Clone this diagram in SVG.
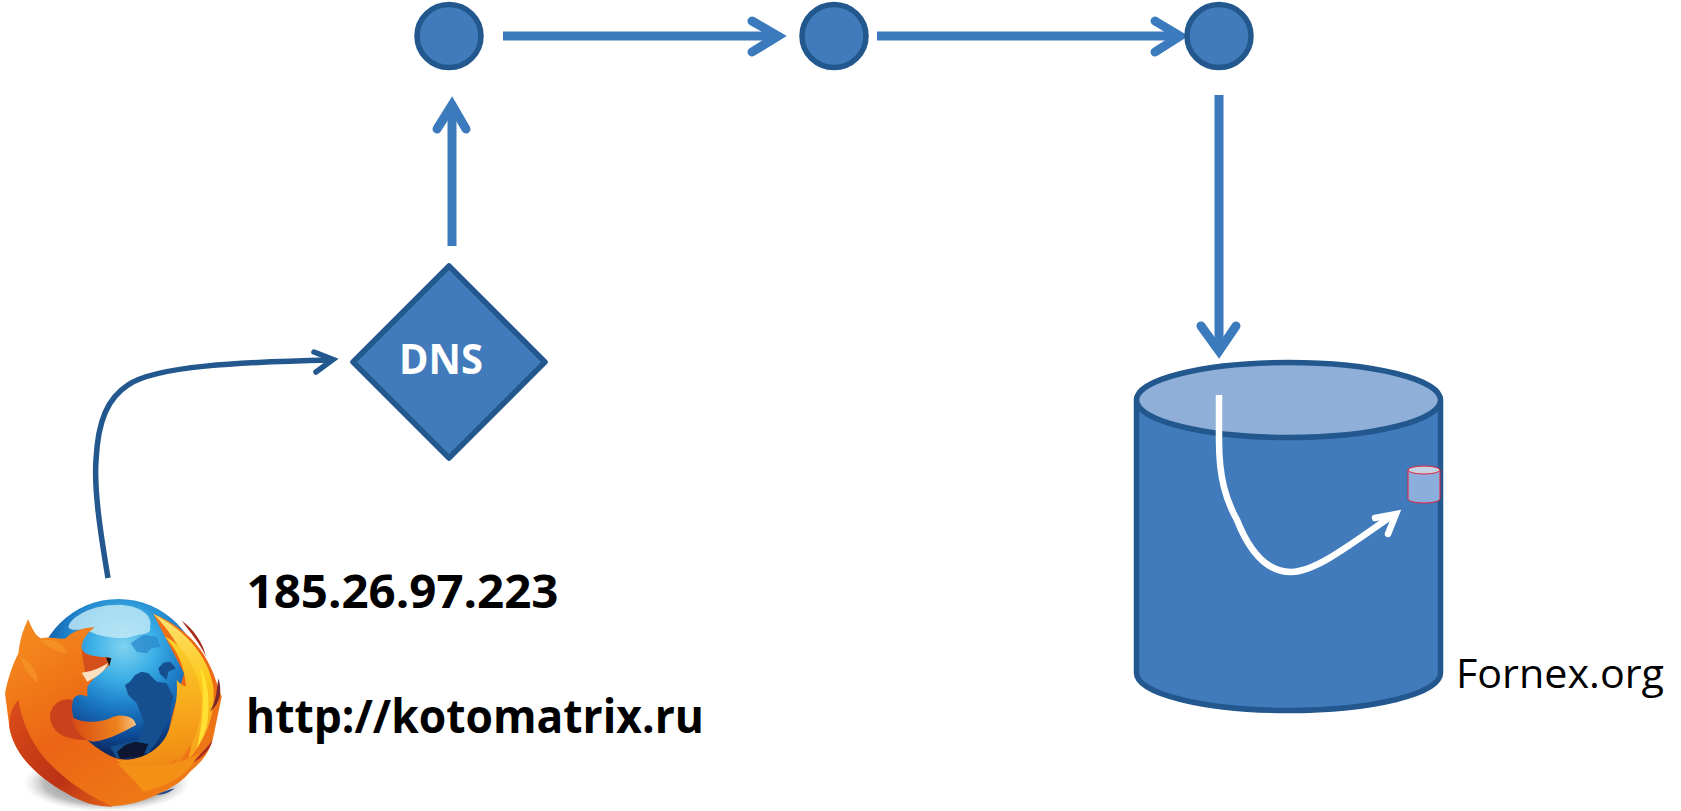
<svg xmlns="http://www.w3.org/2000/svg" width="1681" height="811" viewBox="0 0 1681 811">
<style>
.n{fill:#417bbc;stroke:#22588e;stroke-width:5.5;stroke-linejoin:round}
.a{fill:none;stroke:#3c7abe;stroke-width:9}
.h{fill:none;stroke:#3c7abe;stroke-width:9;stroke-linecap:round;stroke-linejoin:miter;stroke-miterlimit:10}
.t{font-family:"Open Sans","Liberation Sans",sans-serif;fill:#000}
.b{font-weight:700;font-size:47px}
</style>
<defs>
<radialGradient id="globe" gradientUnits="userSpaceOnUse" cx="370" cy="320" r="330">
<stop offset="0" stop-color="#7fd2f0"/><stop offset=".3" stop-color="#3aaee6"/><stop offset=".55" stop-color="#1d7cc6"/><stop offset=".8" stop-color="#0f4c98"/><stop offset="1" stop-color="#0a2559"/>
</radialGradient>
<linearGradient id="fur" gradientUnits="userSpaceOnUse" x1="100" y1="300" x2="420" y2="800">
<stop offset="0" stop-color="#f3861c"/><stop offset=".5" stop-color="#ec6414"/><stop offset="1" stop-color="#ee7a18"/>
</linearGradient>
<linearGradient id="under" gradientUnits="userSpaceOnUse" x1="40" y1="520" x2="330" y2="800">
<stop offset="0" stop-color="#d8481a"/><stop offset=".6" stop-color="#bb3216"/><stop offset="1" stop-color="#e0601a"/>
</linearGradient>
<linearGradient id="fl1" gradientUnits="userSpaceOnUse" x1="500" y1="240" x2="620" y2="620">
<stop offset="0" stop-color="#fde16a"/><stop offset=".5" stop-color="#fdc81e"/><stop offset="1" stop-color="#f8a41a"/>
</linearGradient>
<linearGradient id="fl2" gradientUnits="userSpaceOnUse" x1="500" y1="300" x2="560" y2="680">
<stop offset="0" stop-color="#fcd12a"/><stop offset=".6" stop-color="#f7a51a"/><stop offset="1" stop-color="#ef8616"/>
</linearGradient>
<linearGradient id="tail" gradientUnits="userSpaceOnUse" x1="220" y1="560" x2="410" y2="545">
<stop offset="0" stop-color="#d84c14"/><stop offset=".7" stop-color="#ee8420"/><stop offset="1" stop-color="#f8c488"/>
</linearGradient>
<radialGradient id="shade" gradientUnits="objectBoundingBox" cx=".5" cy=".5" r=".5">
<stop offset="0" stop-color="#444" stop-opacity=".85"/><stop offset=".75" stop-color="#777" stop-opacity=".5"/><stop offset="1" stop-color="#bbb" stop-opacity="0"/>
</radialGradient>
<filter id="soft" x="-5%" y="-5%" width="110%" height="110%"><feGaussianBlur stdDeviation="1.8"/></filter>
</defs>

<g id="firefox" transform="translate(0 540) scale(.33333)" filter="url(#soft)">
<ellipse cx="320" cy="730" rx="250" ry="85" fill="url(#shade)"/>
<circle cx="355" cy="425" r="248" fill="url(#globe)"/>
<path d="M205,260C215,225 290,190 370,195C420,200 460,225 450,262C455,285 425,280 395,290C360,300 300,290 270,275C245,260 215,280 205,260Z" fill="#c6ebf6" opacity=".8"/>
<path d="M392,310L415,295L430,285L470,290L482,320L455,325L440,340L410,335Z" fill="#2a8acb" opacity=".75"/>
<path d="M475,385L490,368L510,365L528,385L505,395L500,420L480,402ZM375,435L390,425L405,405L425,395L445,400L470,425L500,430L520,470L505,540L475,600L445,640L350,655L330,620L415,600L432,545L410,490L385,465Z" fill="#12508f"/>
<path d="M352,635L375,615L405,605L445,612L430,648L360,656Z" fill="#0a1830"/>
<path id="body" d="M85,238C95,265 105,285 122,295C150,288 180,300 198,295C215,275 250,262 285,262C262,278 245,300 245,325C250,345 275,350 330,353L328,375C310,395 280,410 262,440L262,470C240,460 225,465 218,480C210,530 225,560 262,600C290,625 320,645 350,655C390,665 430,655 465,635C490,620 505,590 515,530L552,400L495,290L460,222C530,250 600,300 640,400L665,470L640,590C630,640 600,670 570,695C540,735 470,770 400,790C340,805 270,800 200,760C110,710 40,640 28,560L15,460C25,410 40,370 55,340C60,300 70,265 85,238Z" fill="url(#fur)"/>
<path d="M28,560C40,640 110,710 200,760C250,790 290,800 340,800C270,770 190,720 130,650C90,600 65,540 55,480C35,500 28,530 28,560Z" fill="url(#under)"/>
<path d="M120,300C170,295 190,310 200,340C170,335 150,325 120,300ZM60,350C90,360 110,390 115,430C90,410 70,385 60,350Z" fill="#f79a2a" opacity=".6"/>
<path d="M218,480C180,470 150,500 150,530C152,570 185,600 262,600C225,560 210,530 218,480Z" fill="#c9421a"/>
<path d="M215,530C240,548 300,552 340,530C370,520 405,530 408,555C380,570 330,600 280,605C245,600 225,570 215,530Z" fill="url(#tail)"/>
<path d="M460,222C540,260 625,340 640,440C648,530 615,600 565,660C590,560 590,450 560,370C540,320 500,260 460,222Z" fill="url(#fl1)"/>
<path d="M495,290C545,310 590,380 603,460C612,540 585,620 525,675C560,590 570,480 552,400C542,350 520,320 495,290Z" fill="url(#fl2)"/>
<path d="M530,420C550,440 558,445 565,430C585,470 590,550 570,610C540,665 480,700 400,700L350,660C420,665 490,630 510,560C520,530 535,480 530,420Z" fill="url(#fl2)"/>
<path d="M600,380C625,420 632,490 620,560C610,590 600,610 590,625C610,550 615,460 600,380Z" fill="#ffe030"/>
<path d="M350,668C430,690 530,680 600,640C560,710 500,740 430,755C410,725 380,700 350,668Z" fill="#f49018"/>
<path d="M545,242C580,265 610,310 618,350C600,310 570,275 545,242Z" fill="#a82f1f"/>
<path d="M655,415C667,450 662,490 630,515C650,480 650,450 655,415Z" fill="#7a2a2e"/>
<path d="M637,600C632,630 602,655 580,668C600,640 622,625 637,600Z" fill="#a82c22"/>
<path d="M468,765C490,755 510,748 524,745C510,758 490,765 468,765Z" fill="#2a4a8a"/>
<path d="M245,325C250,345 275,350 330,353L328,375C300,378 275,395 262,425C255,395 247,360 245,325Z" fill="#d4501a"/>
<path d="M245,398C270,395 300,385 325,368C315,395 290,410 262,425Z" fill="#f9e0c0"/>
<path d="M318,352L334,355L328,378Z" fill="#151515"/>
</g>

<g id="connectors">
<path d="M108,578C100,530 94,490 96,460C98,420 108,398 128,385C155,366 240,362 331,360" style="fill:none;stroke:#22588e;stroke-width:5.5"/>
<path d="M314,352L333,359.5L316,372" style="fill:none;stroke:#22588e;stroke-width:5.5;stroke-linecap:round"/>
<path class="a" d="M452,246V108"/><path class="h" d="M437,129L452,105L466,129"/>
<path class="a" d="M503,36H775"/><path class="h" d="M752,21L778,36L752,52"/>
<path class="a" d="M877,36H1178"/><path class="h" d="M1155,21L1180,36L1155,52"/>
<path class="a" d="M1219,95V348"/><path class="h" d="M1201,326L1219,351L1236,326"/>
</g>

<g id="node-1"><ellipse class="n" cx="449" cy="36" rx="32" ry="31.5"/></g>
<g id="node-2"><ellipse class="n" cx="834" cy="36" rx="32" ry="31.5"/></g>
<g id="node-3"><ellipse class="n" cx="1219" cy="36" rx="32" ry="31.5"/></g>

<g id="dns">
<path class="n" d="M449,266L545,362L449,458L353,362Z"/>
<text x="399" y="374" textLength="84" lengthAdjust="spacingAndGlyphs" style="font-family:'Open Sans','Liberation Sans',sans-serif;font-weight:700;font-size:42px;fill:#fff">DNS</text>
</g>

<g id="server">
<path class="n" d="M1136.5,400V673A152,37.5 0 0 0 1440.5,673V400Z"/>
<ellipse cx="1288.5" cy="400" rx="152" ry="37.5" style="fill:#8fafd8;stroke:#22588e;stroke-width:5.5"/>
<path d="M1219,395V440C1219,478 1226,500 1237,520C1250,553 1268,572 1291,572C1315,572 1350,545 1393,515" style="fill:none;stroke:#fff;stroke-width:6.5"/>
<path d="M1375,518L1396,514L1388,534" style="fill:none;stroke:#fff;stroke-width:6.5;stroke-linecap:round"/>
<g id="site">
<path d="M1408,470V499A16,4 0 0 0 1440,499V470Z" style="fill:#8caedc;stroke:#e81f3a;stroke-width:1"/>
<ellipse cx="1424" cy="470" rx="16" ry="4" style="fill:#c6d2e2;stroke:#e81f3a;stroke-width:1"/>
</g>
</g>

<g id="labels">
<text class="t b" x="246.5" y="608" textLength="312" lengthAdjust="spacingAndGlyphs">185.26.97.223</text>
<text class="t b" x="246" y="733" textLength="458" lengthAdjust="spacingAndGlyphs">http://kotomatrix.ru</text>
<text class="t" x="1456" y="688" style="font-size:41px" textLength="208" lengthAdjust="spacingAndGlyphs">Fornex.org</text>
</g>
</svg>
